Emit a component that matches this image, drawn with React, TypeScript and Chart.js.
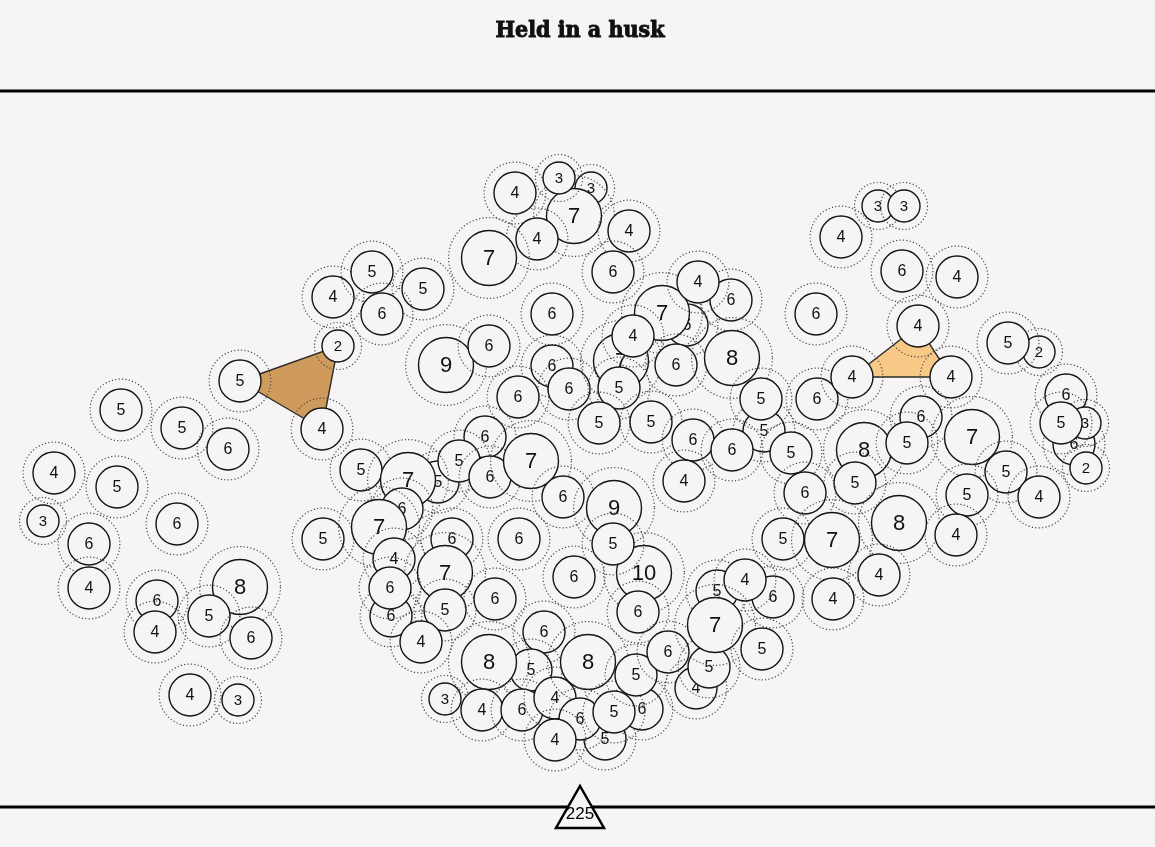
import { useEffect, useRef } from 'react'
import { Chart, registerables } from 'chart.js'

Chart.register(...registerables)

// circle centres (in page pixels) and the number shown in each, in drawing order
const nodeX = [
  121, 182, 228, 54, 117, 43, 177, 89, 89, 240, 157, 155, 209, 251, 190, 238,
  240, 338, 322,
  333, 372, 423, 382,
  515, 591, 574, 559, 537, 629, 489, 613, 552, 446, 489, 552, 518, 569,
  687, 662, 731, 698, 621, 633, 676, 732, 619, 599, 651, 816, 764, 761, 817, 693, 732, 791, 684,
  361, 323, 485, 438, 459, 490, 531, 408, 402, 379, 394, 452, 519, 563, 614, 644, 613, 574, 638,
  445, 391, 390, 445, 421, 495, 544,
  531, 489, 445, 482, 522, 555, 588, 605, 580, 555, 642, 614, 636, 668, 696, 709, 717, 773, 745,
  715, 762,
  878, 904, 841, 902, 957,
  918, 852, 951, 1039, 1008, 1066, 1074, 1085, 1061, 1086, 921, 864, 907, 855, 972, 1006, 967,
  1039, 805, 783, 899, 956, 832, 879, 833,
]
const nodeY = [
  410, 428, 449, 473, 487, 521, 524, 544, 588, 587, 601, 632, 616, 638, 695, 700,
  381, 346, 429,
  297, 272, 289, 314,
  193, 188, 216, 178, 239, 231, 258, 272, 314, 365, 346, 366, 397, 389,
  325, 313, 300, 282, 361, 336, 365, 358, 388, 423, 422, 314, 431, 399, 399, 440, 450, 453, 481,
  470, 539, 437, 482, 461, 477, 461, 480, 509, 527, 559, 539, 539, 497, 508, 573, 544, 577, 612,
  573, 616, 588, 610, 642, 599, 632,
  670, 662, 699, 710, 710, 698, 662, 739, 719, 740, 709, 712, 675, 652, 688, 667, 591, 597, 580,
  625, 649,
  206, 206, 237, 271, 277,
  326, 377, 377, 352, 343, 395, 444, 423, 423, 468, 417, 450, 443, 483, 437, 472, 495,
  497, 493, 539, 523, 535, 540, 575, 599,
]
const nodeValue = [
  5, 5, 6, 4, 5, 3, 6, 6, 4, 8, 6, 4, 5, 6, 4, 3,
  5, 2, 4,
  4, 5, 5, 6,
  4, 3, 7, 3, 4, 4, 7, 6, 6, 9, 6, 6, 6, 6,
  6, 7, 6, 4, 7, 4, 6, 8, 5, 5, 5, 6, 5, 5, 6, 6, 6, 5, 4,
  5, 5, 6, 5, 5, 6, 7, 7, 6, 7, 4, 6, 6, 6, 9, 10, 5, 6, 6,
  7, 6, 6, 5, 4, 6, 6,
  5, 8, 3, 4, 6, 4, 8, 5, 6, 4, 6, 5, 5, 6, 4, 5, 5, 6, 4,
  7, 5,
  3, 3, 4, 6, 4,
  4, 4, 4, 2, 5, 6, 6, 3, 5, 2, 6, 8, 5, 5, 7, 5, 5,
  4, 6, 5, 8, 4, 7, 4, 4,
]

// the two husks join these circles (indices into the arrays above)
const huskDark = [16, 17, 18]
const huskLight = [108, 109, 110]

const titleText = 'Held in a husk'
const totalText = '225'

const BG = '#f6f4f5'

const radiusFor = (v: number) => (v <= 3 ? 16 : v <= 6 ? 21 : 27.5)
const fontFor = (v: number) => (v <= 3 ? 15 : v <= 6 ? 16 : 22)

const huskPlugin = {
  id: 'husk',
  afterDatasetsDraw(chart: Chart) {
    const ctx = chart.ctx
    const pts = chart.getDatasetMeta(0).data
    ctx.save()

    const polygon = (idx: number[], fill: string) => {
      ctx.beginPath()
      idx.forEach((i, k) => {
        const p = pts[i]
        if (k === 0) ctx.moveTo(p.x, p.y)
        else ctx.lineTo(p.x, p.y)
      })
      ctx.closePath()
      ctx.fillStyle = fill
      ctx.fill()
      ctx.strokeStyle = '#2a2a2a'
      ctx.lineWidth = 1.4
      ctx.stroke()
    }
    polygon(huskDark, '#cf9b5c')
    polygon(huskLight, '#f8c886')

    pts.forEach((p, i) => {
      const v = nodeValue[i]
      const r = radiusFor(v)
      // dotted halo
      ctx.beginPath()
      ctx.arc(p.x, p.y, r * 1.47, 0, Math.PI * 2)
      ctx.setLineDash([1.2, 2.2])
      ctx.strokeStyle = '#4a4a4a'
      ctx.lineWidth = 1.2
      ctx.stroke()
      ctx.setLineDash([])
      // body
      ctx.beginPath()
      ctx.arc(p.x, p.y, r, 0, Math.PI * 2)
      ctx.fillStyle = BG
      ctx.fill()
      ctx.strokeStyle = '#151515'
      ctx.lineWidth = 1.4
      ctx.stroke()
      // number
      ctx.fillStyle = '#111'
      ctx.font = `${fontFor(v)}px "Liberation Sans", Arial, sans-serif`
      ctx.textAlign = 'center'
      ctx.textBaseline = 'middle'
      ctx.fillText(String(v), p.x, p.y + 1)
    })
    ctx.restore()
  },
}

const framePlugin = {
  id: 'frame',
  afterDraw(chart: Chart) {
    const ctx = chart.ctx as CanvasRenderingContext2D & { fontStretch?: string }
    const xs = chart.scales.x
    const ys = chart.scales.y
    const cx = xs.getPixelForValue(580)
    ctx.save()

    // heavy condensed slab title
    ctx.fillStyle = '#111'
    ctx.strokeStyle = '#111'
    ctx.lineWidth = 0.9
    ctx.font = 'bold condensed 23px "DejaVu Serif", serif'
    ctx.fontStretch = 'condensed'
    ctx.textAlign = 'center'
    ctx.textBaseline = 'middle'
    const ty = ys.getPixelForValue(31)
    ctx.fillText(titleText, cx, ty)
    ctx.strokeText(titleText, cx, ty)
    ctx.fontStretch = 'normal'

    ctx.strokeStyle = '#000'
    ctx.lineWidth = 3
    ;[91, 807].forEach((yv) => {
      const y = ys.getPixelForValue(yv)
      ctx.beginPath()
      ctx.moveTo(xs.getPixelForValue(0), y)
      ctx.lineTo(xs.getPixelForValue(1155), y)
      ctx.stroke()
    })

    const top = ys.getPixelForValue(786)
    const base = ys.getPixelForValue(828)
    ctx.beginPath()
    ctx.moveTo(cx, top)
    ctx.lineTo(cx + 24, base)
    ctx.lineTo(cx - 24, base)
    ctx.closePath()
    ctx.fillStyle = BG
    ctx.fill()
    ctx.lineWidth = 2.5
    ctx.lineJoin = 'miter'
    ctx.stroke()

    ctx.fillStyle = '#000'
    ctx.font = '17px "Liberation Sans", Arial, sans-serif'
    ctx.fillText(totalText, cx, ys.getPixelForValue(814))
    ctx.restore()
  },
}

export default function App() {
  const canvasRef = useRef<HTMLCanvasElement>(null)

  useEffect(() => {
    if (!canvasRef.current) return
    const chart = new Chart(canvasRef.current, {
      type: 'scatter',
      data: {
        datasets: [
          {
            data: nodeX.map((x, i) => ({ x, y: nodeY[i] })),
            pointRadius: 0,
            pointHoverRadius: 0,
            borderWidth: 0,
            backgroundColor: 'rgba(0,0,0,0)',
          },
        ],
      },
      options: {
        responsive: true,
        maintainAspectRatio: false,
        animation: false,
        events: [],
        layout: { padding: 0 },
        scales: {
          x: { type: 'linear', min: 0, max: 1155, display: false },
          y: { type: 'linear', min: 0, max: 847, reverse: true, display: false },
        },
        plugins: {
          legend: { display: false },
          tooltip: { enabled: false },
        },
      },
      plugins: [huskPlugin, framePlugin],
    })
    return () => chart.destroy()
  }, [])

  return (
    <div style={{ position: 'absolute', left: 0, top: 0, width: 1155, height: 847, background: BG }}>
      <canvas ref={canvasRef}></canvas>
    </div>
  )
}
